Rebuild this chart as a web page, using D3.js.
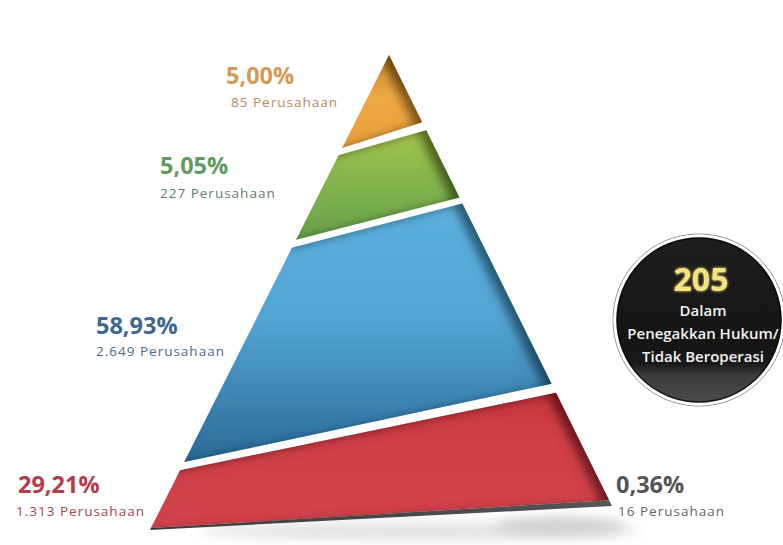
<!DOCTYPE html>
<html>
<head>
<meta charset="utf-8">
<script src="https://cdn.jsdelivr.net/npm/d3@7"></script>
<style>
  html, body { margin: 0; padding: 0; background: #fff; }
  svg { display: block; }
</style>
</head>
<body>
<svg id="chart" width="783" height="545"></svg>
<script>
// ---------- DATA ----------
const levels = ["Tingkat 5", "Tingkat 4", "Tingkat 3", "Tingkat 2", "Tingkat 1"];
const percents = [5.00, 5.05, 58.93, 29.21, 0.36];
const companies = [85, 227, 2649, 1313, 16];
const unitLabel = "Perusahaan";
const highlightValue = 205;
const highlightLines = ["Dalam", "Penegakkan Hukum/", "Tidak Beroperasi"];

// ---------- LAYOUT / STYLE ----------
const W = 783, H = 545;
const apex = [389, 55], baseL = [150, 530], baseR = [612, 506];
// boundary parameters (0 = apex, 1 = base) along left and right edges for each layer
const layerT = [
  {tl: 0.000, tr: 0.000, bl: 0.196, br: 0.149},
  {tl: 0.211, tr: 0.167, bl: 0.389, br: 0.316},
  {tl: 0.406, tr: 0.329, bl: 0.857, br: 0.729},
  {tl: 0.874, tr: 0.749, bl: 0.996, br: 0.987},
  {tl: 0.996, tr: 0.987, bl: 1.000, br: 1.000}
];
const fills = [
  ["#c98a30", "#eea845", "#e9a03c"],
  ["#a3c64b", "#86b54d", "#66a04c"],
  ["#5cb1de", "#52a5d3", "#2c6a97"],
  ["#c9373f", "#d1414a", "#d2434c"],
  ["#5a5a5a", "#4a4a4a", "#3a3a3a"]
];
const labelPos = [
  {x: 226, y: 84, sx: 231, sy: 107},
  {x: 160, y: 174, sx: 160, sy: 198},
  {x: 96, y: 334, sx: 96, sy: 356},
  {x: 18, y: 493, sx: 16, sy: 516},
  {x: 616, y: 493, sx: 618, sy: 516}
];
const pctColors = ["#d29a55", "#5f9b5d", "#3f6690", "#b53b4a", "#555555"];
const subColors = ["#b88a5c", "#5e7d6c", "#4d6a87", "#a24652", "#666666"];

const locale = d3.formatLocale({decimal: ",", thousands: ".", grouping: [3], currency: ["Rp", ""]});
const fmtPct = locale.format(",.2f");
const fmtInt = locale.format(",d");

const svg = d3.select("#chart");
const defs = svg.append("defs");

// scales along pyramid edges
const lx = d3.scaleLinear().domain([0, 1]).range([apex[0], baseL[0]]);
const ly = d3.scaleLinear().domain([0, 1]).range([apex[1], baseL[1]]);
const rx = d3.scaleLinear().domain([0, 1]).range([apex[0], baseR[0]]);
const ry = d3.scaleLinear().domain([0, 1]).range([apex[1], baseR[1]]);

// gradients
fills.forEach((f, i) => {
  const g = defs.append("linearGradient").attr("id", "g" + i)
    .attr("x1", 0).attr("y1", 0).attr("x2", 0).attr("y2", 1);
  g.append("stop").attr("offset", "0%").attr("stop-color", f[0]);
  g.append("stop").attr("offset", "45%").attr("stop-color", f[1]);
  g.append("stop").attr("offset", "100%").attr("stop-color", f[2]);
});

// inner shadow filter
const inner = defs.append("filter").attr("id", "inner")
  .attr("x", "-10%").attr("y", "-10%").attr("width", "120%").attr("height", "120%");
inner.append("feOffset").attr("in", "SourceAlpha").attr("dx", -9).attr("dy", 3).attr("result", "off");
inner.append("feGaussianBlur").attr("in", "off").attr("stdDeviation", 5).attr("result", "blur");
inner.append("feComposite").attr("in", "SourceAlpha").attr("in2", "blur").attr("operator", "out").attr("result", "edge");
inner.append("feFlood").attr("flood-color", "#000").attr("flood-opacity", 0.75).attr("result", "col");
inner.append("feComposite").attr("in", "col").attr("in2", "edge").attr("operator", "in").attr("result", "sh");
const m = inner.append("feMerge");
m.append("feMergeNode").attr("in", "SourceGraphic");
m.append("feMergeNode").attr("in", "sh");

const blur = defs.append("filter").attr("id", "blur").attr("x", "-20%").attr("y", "-100%").attr("width", "140%").attr("height", "300%");
blur.append("feGaussianBlur").attr("stdDeviation", 6);

// ground shadow
svg.append("ellipse").attr("cx", 420).attr("cy", 531).attr("rx", 220).attr("ry", 9)
  .attr("fill", "#e2e2e2").attr("filter", "url(#blur)");
svg.append("ellipse").attr("cx", 560).attr("cy", 526).attr("rx", 65).attr("ry", 9)
  .attr("fill", "#d0d0d0").attr("filter", "url(#blur)");

// pyramid layers
const line = d3.line();
const layerData = levels.map((lv, i) => ({lv, pct: percents[i], n: companies[i], t: layerT[i], i}));
svg.append("g").selectAll("path").data(layerData).join("path")
  .attr("d", d => {
    const t = d.t;
    const pts = [[lx(t.tl), ly(t.tl)], [rx(t.tr), ry(t.tr)], [rx(t.br), ry(t.br)], [lx(t.bl), ly(t.bl)]];
    return line(pts) + "Z";
  })
  .attr("fill", d => `url(#g${d.i})`)
  .attr("filter", d => d.i < 4 ? "url(#inner)" : null);

// labels
const lab = svg.append("g").style("font-family", "'Open Sans', 'DejaVu Sans', sans-serif");
lab.selectAll("text.pct").data(layerData).join("text").attr("class", "pct")
  .attr("x", d => labelPos[d.i].x).attr("y", d => labelPos[d.i].y)
  .attr("font-size", 23.5).attr("font-weight", 700)
  .attr("fill", d => pctColors[d.i])
  .text(d => fmtPct(d.pct) + "%");
lab.selectAll("text.sub").data(layerData).join("text").attr("class", "sub")
  .attr("x", d => labelPos[d.i].sx).attr("y", d => labelPos[d.i].sy)
  .attr("font-size", 13.5).attr("letter-spacing", 1.0)
  .attr("fill", d => subColors[d.i])
  .text(d => fmtInt(d.n) + " " + unitLabel);

// badge circle
const cx = 699, cy = 320, r = 84;
const cg = defs.append("linearGradient").attr("id", "cgrad").attr("x1", 0).attr("y1", 0).attr("x2", 0).attr("y2", 1);
[["0%", "#1e1e1e"], ["60%", "#151515"], ["76%", "#1a1a1a"], ["83%", "#3c3c3c"], ["100%", "#4c4c4c"]]
  .forEach(s => cg.append("stop").attr("offset", s[0]).attr("stop-color", s[1]));
const glow = defs.append("filter").attr("id", "glow").attr("x", "-30%").attr("y", "-30%").attr("width", "160%").attr("height", "160%");
glow.append("feGaussianBlur").attr("in", "SourceGraphic").attr("stdDeviation", 1.5).attr("result", "b");
const gm = glow.append("feMerge");
gm.append("feMergeNode").attr("in", "b");
gm.append("feMergeNode").attr("in", "SourceGraphic");

const badge = svg.append("g");
badge.append("circle").attr("cx", cx).attr("cy", cy).attr("r", r + 2)
  .attr("fill", "none").attr("stroke", "#8a8a8a").attr("stroke-width", 1);
badge.append("circle").attr("cx", cx).attr("cy", cy).attr("r", r)
  .attr("fill", "url(#cgrad)").attr("stroke", "#ffffff").attr("stroke-width", 3);
badge.append("circle").attr("cx", cx).attr("cy", cy).attr("r", r - 2)
  .attr("fill", "none").attr("stroke", "#000").attr("stroke-width", 1.5).attr("opacity", 0.7);

const bt = badge.append("g").attr("text-anchor", "middle")
  .style("font-family", "'Open Sans', 'DejaVu Sans', sans-serif");
bt.append("text").attr("x", cx + 2).attr("y", 291)
  .attr("font-size", 32).attr("font-weight", 700).attr("fill", "#f3e37c")
  .attr("filter", "url(#glow)").text(highlightValue);
bt.selectAll("text.l").data(highlightLines).join("text").attr("class", "l")
  .attr("x", cx + 4).attr("y", (d, i) => 316 + i * 23)
  .attr("font-size", 15).attr("font-weight", 600).attr("fill", "#f2f2f2")
  .text(d => d);
</script>
</body>
</html>
